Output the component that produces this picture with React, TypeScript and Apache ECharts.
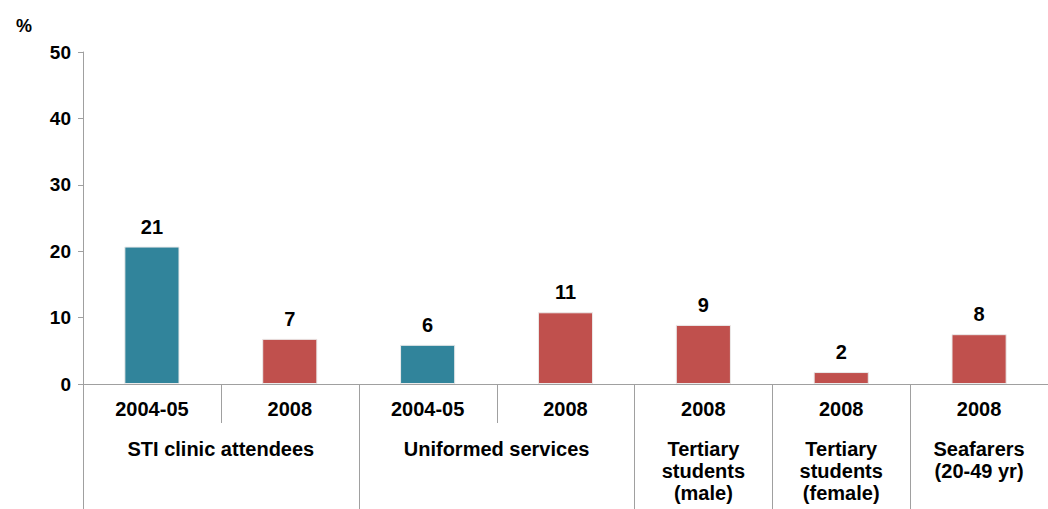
import React, { useEffect, useRef } from "react";
import * as echarts from "echarts";

const periods = ["2004-05", "2008", "2004-05", "2008", "2008", "2008", "2008"];
const values = [20.7, 6.8, 5.9, 10.8, 8.9, 1.8, 7.5];
const groupLabels = [
  "STI clinic attendees",
  "Uniformed services",
  "Tertiary\nstudents\n(male)",
  "Tertiary\nstudents\n(female)",
  "Seafarers\n(20-49 yr)",
];
const groupSpans = [2, 2, 1, 1, 1];
const yTicks = [0, 10, 20, 30, 40, 50];

const FONT = '"Liberation Sans", Arial, sans-serif';
const TEAL = "#31849B";
const RED = "#C0504D";
const AXIS = "#A0A0A0";

export default function App() {
  const ref = useRef<HTMLDivElement>(null);

  useEffect(() => {
    document.body.style.margin = "0";
    if (!ref.current) return;
    const chart = echarts.init(ref.current, undefined, { renderer: "svg" });
    const option: any = {
      animation: false,
      backgroundColor: "#fff",
      title: {
        text: "%",
        left: 11,
        top: 12,
        textStyle: { fontFamily: FONT, fontWeight: "bold", fontSize: 18, color: "#000" },
      },
      grid: { left: 83, right: 0, top: 52, bottom: 125, containLabel: false },
      xAxis: {
        type: "category",
        data: periods.map((p, i) => ({ value: p + "#" + i })),
        axisLine: { show: true, lineStyle: { color: AXIS, width: 1 } },
        axisTick: { show: false },
        axisLabel: {
          interval: 0,
          margin: 15,
          formatter: (v: string) => v.split("#")[0],
          fontFamily: FONT,
          fontWeight: "bold",
          fontSize: 20,
          color: "#000",
        },
      },
      yAxis: {
        type: "value",
        min: yTicks[0],
        max: yTicks[yTicks.length - 1],
        interval: 10,
        splitLine: { show: false },
        axisLine: { show: true, lineStyle: { color: AXIS } },
        axisTick: { show: true, length: 5, lineStyle: { color: AXIS } },
        axisLabel: {
          margin: 12,
          fontFamily: FONT,
          fontWeight: "bold",
          fontSize: 19,
          color: "#000",
        },
      },
      series: [
        {
          type: "bar",
          barWidth: "40%",
          data: values.map((v, i) => ({
            value: v,
            itemStyle: { color: periods[i] === "2004-05" ? TEAL : RED },
          })),
          itemStyle: {
            borderColor: "rgba(235,235,235,1)",
            borderWidth: 1,
          },
          label: {
            show: true,
            position: "top",
            distance: 10,
            formatter: (p: any) => String(Math.round(p.value)),
            fontFamily: FONT,
            fontWeight: "bold",
            fontSize: 20,
            color: "#000",
          },
        },
      ],
    };
    chart.setOption(option);

    const x0 = chart.convertToPixel({ xAxisIndex: 0 }, 0) as number;
    const x1 = chart.convertToPixel({ xAxisIndex: 0 }, 1) as number;
    const band = x1 - x0;
    const y0 = chart.convertToPixel({ yAxisIndex: 0 }, 0) as number;
    const bottom = chart.getHeight();

    const elements: any[] = [];
    let start = 0;
    groupSpans.forEach((span, gi) => {
      const left = x0 - band / 2 + start * band;
      const center = left + (span * band) / 2;
      elements.push({
        type: "line",
        shape: { x1: Math.round(left) + 0.5, y1: y0, x2: Math.round(left) + 0.5, y2: bottom },
        style: { stroke: AXIS, lineWidth: 1 },
      });
      for (let k = 1; k < span; k++) {
        const bx = Math.round(left + k * band) + 0.5;
        elements.push({
          type: "line",
          shape: { x1: bx, y1: y0, x2: bx, y2: y0 + 39 },
          style: { stroke: AXIS, lineWidth: 1 },
        });
      }
      elements.push({
        type: "text",
        x: center,
        y: y0 + 54,
        style: {
          text: groupLabels[gi],
          align: "center",
          verticalAlign: "top",
          fontFamily: FONT,
          fontWeight: "bold",
          fontSize: 20,
          lineHeight: 22,
          fill: "#000",
        },
      });
      start += span;
    });
    chart.setOption({ graphic: { elements } });

    return () => chart.dispose();
  }, []);

  return <div ref={ref} style={{ width: 1048, height: 509 }} />;
}
